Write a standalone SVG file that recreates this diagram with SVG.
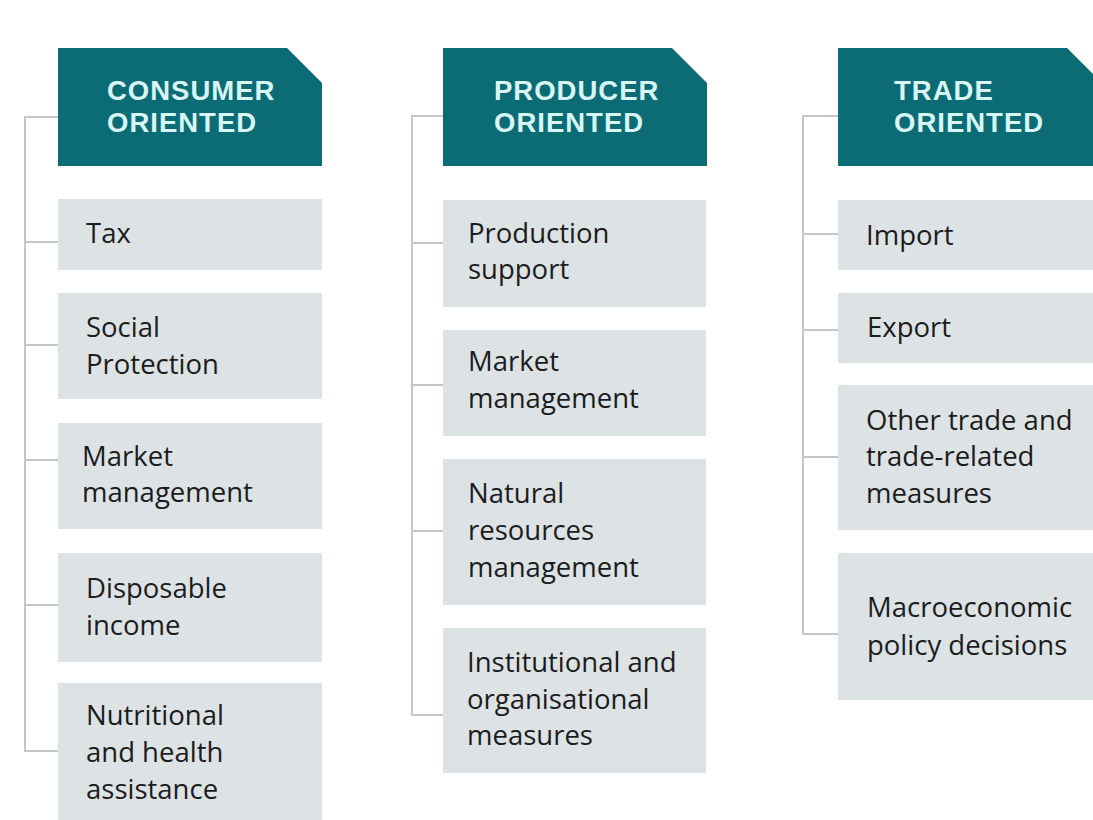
<svg xmlns="http://www.w3.org/2000/svg" width="1093" height="820" viewBox="0 0 1093 820">
  <style>
    .head { fill: #0b6c75; }
    .item { fill: #dde2e5; }
    .htxt { font-family: "Liberation Sans", Arial, sans-serif; font-weight: 700; font-size: 27.5px; letter-spacing: 1px; fill: #d9f6f6; }
    .txt { font-family: "Open Sans", "Liberation Sans", sans-serif; font-size: 27.5px; fill: #1c1c1c; }
    .conn { stroke: #c6c6c6; stroke-width: 2; fill: none; }
  </style>
  <rect width="1093" height="820" fill="#ffffff"/>

  <!-- tree connectors -->
  <g id="connectors">
    <path class="conn" d="M58 117 H25 V751 H58 M25 242 H58 M25 345 H58 M25 460 H58 M25 605 H58"/>
    <path class="conn" d="M443 116 H412 V715 H443 M412 243 H443 M412 385 H443 M412 531 H443"/>
    <path class="conn" d="M838 116 H803 V634 H838 M803 234 H838 M803 330 H838 M803 457 H838"/>
  </g>

  <!-- consumer oriented column -->
  <g id="consumer-head">
    <path class="head" d="M58 48 H287 L322 83 V166 H58 Z"/>
    <text class="htxt"><tspan x="107" y="100">CONSUMER</tspan><tspan x="107" y="132">ORIENTED</tspan></text>
  </g>
  <g id="consumer-tax">
    <rect class="item" x="58" y="199" width="264" height="71"/>
    <text class="txt" x="86" y="243">Tax</text>
  </g>
  <g id="consumer-social">
    <rect class="item" x="58" y="293" width="264" height="106"/>
    <text class="txt" x="86" y="337">Social</text>
    <text class="txt" x="86" y="374">Protection</text>
  </g>
  <g id="consumer-market">
    <rect class="item" x="58" y="423" width="264" height="106"/>
    <text class="txt" x="82" y="466">Market</text>
    <text class="txt" x="82" y="502">management</text>
  </g>
  <g id="consumer-income">
    <rect class="item" x="58" y="553" width="264" height="109"/>
    <text class="txt" x="86" y="598">Disposable</text>
    <text class="txt" x="86" y="635">income</text>
  </g>
  <g id="consumer-nutrition">
    <rect class="item" x="58" y="683" width="264" height="137"/>
    <text class="txt" x="86" y="725">Nutritional</text>
    <text class="txt" x="86" y="762">and health</text>
    <text class="txt" x="86" y="799">assistance</text>
  </g>

  <!-- producer oriented column -->
  <g id="producer-head">
    <path class="head" d="M443 48 H672 L707 83 V166 H443 Z"/>
    <text class="htxt"><tspan x="494" y="100">PRODUCER</tspan><tspan x="494" y="132">ORIENTED</tspan></text>
  </g>
  <g id="producer-support">
    <rect class="item" x="443" y="200" width="263" height="107"/>
    <text class="txt" x="468" y="243">Production</text>
    <text class="txt" x="468" y="279">support</text>
  </g>
  <g id="producer-market">
    <rect class="item" x="443" y="330" width="263" height="106"/>
    <text class="txt" x="468" y="371">Market</text>
    <text class="txt" x="468" y="408">management</text>
  </g>
  <g id="producer-resources">
    <rect class="item" x="443" y="459" width="263" height="146"/>
    <text class="txt" x="468" y="503">Natural</text>
    <text class="txt" x="468" y="540">resources</text>
    <text class="txt" x="468" y="577">management</text>
  </g>
  <g id="producer-institutional">
    <rect class="item" x="443" y="628" width="263" height="145"/>
    <text class="txt" x="467" y="672">Institutional and</text>
    <text class="txt" x="467" y="709">organisational</text>
    <text class="txt" x="467" y="745">measures</text>
  </g>

  <!-- trade oriented column -->
  <g id="trade-head">
    <path class="head" d="M838 48 H1067 L1102 83 V166 H838 Z"/>
    <text class="htxt"><tspan x="894" y="100">TRADE</tspan><tspan x="894" y="132">ORIENTED</tspan></text>
  </g>
  <g id="trade-import">
    <rect class="item" x="838" y="200" width="264" height="70"/>
    <text class="txt" x="866" y="245">Import</text>
  </g>
  <g id="trade-export">
    <rect class="item" x="838" y="293" width="264" height="70"/>
    <text class="txt" x="867" y="337">Export</text>
  </g>
  <g id="trade-other">
    <rect class="item" x="838" y="385" width="264" height="145"/>
    <text class="txt" x="866" y="430">Other trade and</text>
    <text class="txt" x="866" y="466">trade-related</text>
    <text class="txt" x="866" y="503">measures</text>
  </g>
  <g id="trade-macro">
    <rect class="item" x="838" y="553" width="264" height="147"/>
    <text class="txt" x="867" y="617">Macroeconomic</text>
    <text class="txt" x="867" y="655">policy decisions</text>
  </g>
</svg>
